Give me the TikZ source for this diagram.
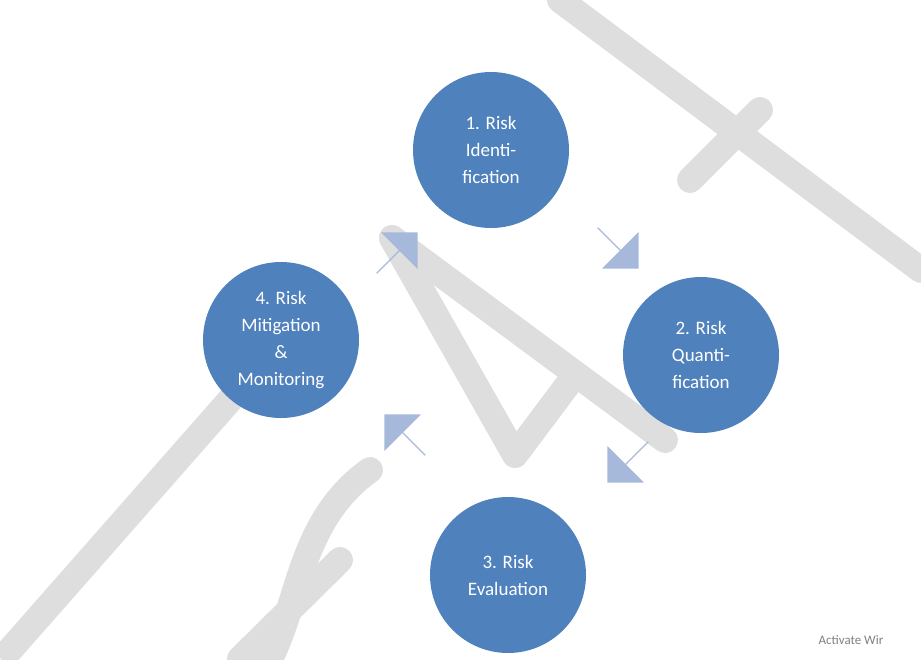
\documentclass[tikz,border=0pt]{standalone}
\usepackage{fontspec}
\setmainfont{Carlito}
\definecolor{riskblue}{RGB}{79,129,189}
\definecolor{riskarrow}{RGB}{167,185,218}
\definecolor{draftgray}{RGB}{222,222,222}
\usetikzlibrary{shapes.arrows}
\begin{document}
\begin{tikzpicture}[x=1pt, y=-1pt,
    every node/.style={font=\fontsize{19}{27}\selectfont},
    riskstep/.style={circle, fill=riskblue, text=white, minimum size=156pt, align=center, inner sep=0pt},
    flow/.style={single arrow, fill=riskarrow, minimum height=58pt, minimum width=52pt, single arrow head extend=8pt, inner sep=0pt},
    draft/.style={draftgray, line width=26pt, line cap=round, line join=round}]
    \useasboundingbox (0,0) rectangle (921,659);

    % Watermark
    \draw[draft] (392,238) -- (515,455) -- (575,375);
    \draw[draft] (392,238) -- (665,440);
    \draw[draft] (560,0) -- (921,270);
    \draw[draft] (690,180) -- (760,110);
    \draw[draft] (230,400) -- (10,650);
    \draw[draft] (370,470) .. controls (300,520) and (300,600) .. (270,659);
    \draw[draft] (340,560) -- (240,659);

    % Steps
    \node[riskstep] (ident) at (491,150) {1. Risk\\Identi-\\fication};
    \node[riskstep] (quant) at (701,355) {2. Risk\\Quanti-\\fication};
    \node[riskstep] (eval) at (508,575) {3. Risk\\Evaluation};
    \node[riskstep] (mitig) at (281,340) {4. Risk\\Mitigation\\\&\\Monitoring};

    % Arrows
    \node[flow, rotate=-45] (a12) at (618,248) {};
    \node[flow, rotate=-135] (a23) at (628,462) {};
    \node[flow, rotate=135] (a34) at (405,435) {};
    \node[flow, rotate=45] (a41) at (397,253) {};

    \node[text=gray, anchor=west, font=\fontsize{13}{15}\selectfont] (act) at (815,640) {Activate Wir};
\end{tikzpicture}
\end{document}
